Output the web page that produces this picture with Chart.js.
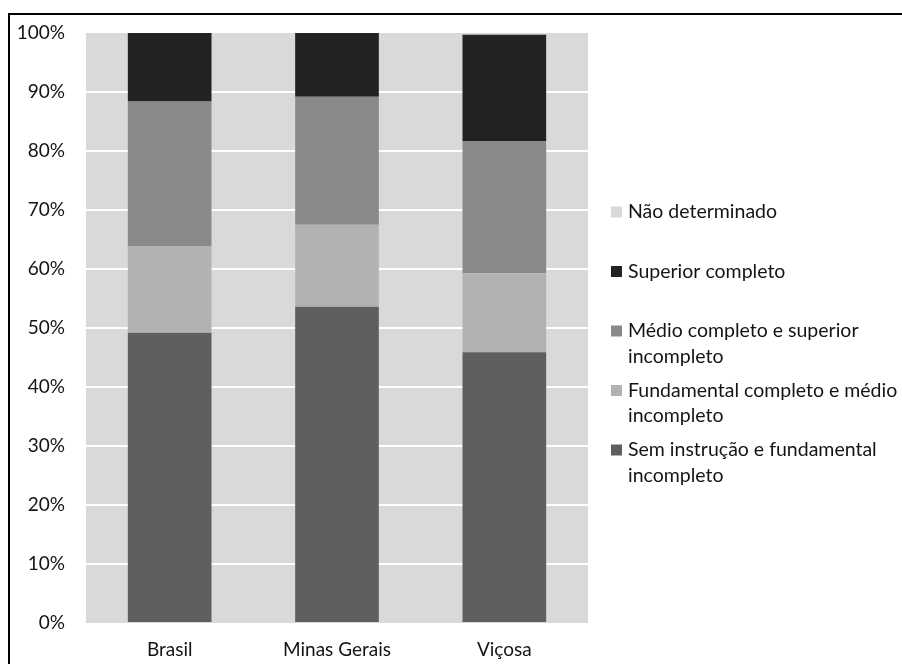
<!DOCTYPE html>
<html lang="pt">
<head>
<meta charset="utf-8">
<title>Escolaridade</title>
<script src="https://cdn.jsdelivr.net/npm/chart.js@4/dist/chart.umd.min.js"></script>
<style>
  html, body { margin: 0; padding: 0; background: #ffffff; }
  #wrap { position: relative; width: 902px; height: 664px; overflow: hidden; }
  #frame { position: absolute; left: 8px; top: 13px; width: 1000px; height: 1000px;
           border-top: 2px solid #000; border-left: 2px solid #000; box-sizing: border-box; }
  #chart { position: absolute; left: 0; top: 0; }
</style>
</head>
<body>
<div id="wrap">
  <div id="frame"></div>
  <canvas id="chart" width="902" height="664"></canvas>
</div>
<script>
// Regions compared
const categories = ["Brasil", "Minas Gerais", "Viçosa"];

// Share of population (%) by education level, bottom to top of each bar
const semInstrucao   = [49.2, 53.6, 45.9];
const fundamental    = [14.7, 13.9, 13.4];
const medio          = [24.5, 21.7, 22.4];
const superior       = [11.6, 10.8, 18.0];
const naoDeterminado = [0.0, 0.0, 0.3];

// Series names, split where the legend wraps them
const seriesNames = [
  ["Sem instrução e fundamental", "incompleto"],
  ["Fundamental completo e médio", "incompleto"],
  ["Médio completo e superior", "incompleto"],
  ["Superior completo"],
  ["Não determinado"]
];
const seriesColors = ["#5f5f5f", "#b2b2b2", "#898989", "#222222", "#d9d9d9"];
const seriesValues = [semInstrucao, fundamental, medio, superior, naoDeterminado];

// Y axis ticks: 0% .. 100%
const yTicks = [0, 10, 20, 30, 40, 50, 60, 70, 80, 90, 100];

const FONT = "Lato";
const TEXT = "#141414";

// Grey plot background behind bars
const plotBackground = {
  id: "plotBackground",
  beforeDraw(chart) {
    const { ctx, chartArea: a } = chart;
    ctx.save();
    ctx.fillStyle = "#d9d9d9";
    ctx.fillRect(a.left, a.top, a.right - a.left, a.bottom - a.top);
    ctx.restore();
  }
};

// Legend at the right, listed top to bottom in reverse stacking order
const sideLegend = {
  id: "sideLegend",
  afterDraw(chart) {
    const { ctx, chartArea: a } = chart;
    const boxX = a.right + 23;
    const textX = boxX + 17;
    const firstY = a.top + 179;
    const rowStep = 59.5;
    const lineStep = 25.5;
    ctx.save();
    ctx.font = "19.5px " + FONT;
    ctx.textBaseline = "middle";
    ctx.textAlign = "left";
    const ds = chart.data.datasets;
    for (let k = 0; k < ds.length; k++) {
      const d = ds[ds.length - 1 - k];
      const y = firstY + k * rowStep;
      ctx.fillStyle = d.backgroundColor;
      ctx.fillRect(boxX, y - 5.5, 11, 11);
      ctx.fillStyle = TEXT;
      d.legendLines.forEach((line, j) => ctx.fillText(line, textX, y + j * lineStep));
    }
    ctx.restore();
  }
};

const datasets = seriesValues.map((vals, i) => ({
  label: seriesNames[i].join(" "),
  legendLines: seriesNames[i],
  data: vals,
  backgroundColor: seriesColors[i],
  borderWidth: 0,
  barPercentage: 0.5,
  categoryPercentage: 1.0
}));

new Chart(document.getElementById("chart"), {
  type: "bar",
  data: { labels: categories, datasets },
  plugins: [plotBackground, sideLegend],
  options: {
    responsive: false,
    animation: false,
    layout: { padding: { left: 0, top: 33, right: 314, bottom: 0 } },
    plugins: { legend: { display: false }, tooltip: { enabled: false } },
    scales: {
      x: {
        stacked: true,
        grid: { display: false, drawTicks: false },
        border: { display: false },
        ticks: { color: TEXT, font: { family: FONT, size: 19 }, padding: 15, maxRotation: 0 },
        afterFit(s) { s.height = 41; }
      },
      y: {
        stacked: true,
        min: 0,
        max: 100,
        afterBuildTicks(s) { s.ticks = yTicks.map(v => ({ value: v })); },
        grid: {
          drawTicks: false,
          lineWidth: 2,
          color: c => (c.tick && (c.tick.value === 0 || c.tick.value === 100)) ? "rgba(0,0,0,0)" : "#ffffff"
        },
        border: { display: false },
        ticks: {
          color: TEXT,
          font: { family: FONT, size: 19 },
          padding: 21,
          callback: v => v + "%"
        },
        afterFit(s) { s.width = 86; }
      }
    }
  }
});
</script>
</body>
</html>
